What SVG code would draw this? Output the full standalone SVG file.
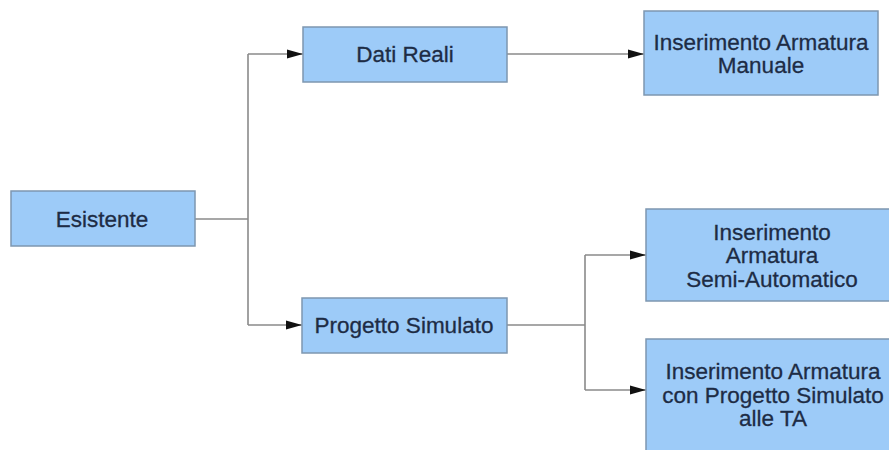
<svg xmlns="http://www.w3.org/2000/svg" width="889" height="450" viewBox="0 0 889 450">
<style>
.box{fill:#9dcbf8;stroke:#7e97b0;stroke-width:1.5}
.t{font-family:"Liberation Sans",Arial,sans-serif;font-size:22.5px;fill:#1d2c45;stroke:#1d2c45;stroke-width:0.3;text-anchor:middle}
.c{fill:none;stroke:#8a8a8a;stroke-width:1.6}
</style>
<defs>
<marker id="ah" markerUnits="userSpaceOnUse" markerWidth="16" markerHeight="10" refX="16" refY="5" orient="auto">
<path d="M0,0.5 L16,5 L0,9.5 Z" fill="#111"/>
</marker>
</defs>
<rect width="889" height="450" fill="#fff"/>
<g id="connectors">
<path class="c" d="M195,219 H248"/>
<path class="c" d="M248,54 V325"/>
<path class="c" d="M248,54 H303" marker-end="url(#ah)"/>
<path class="c" d="M248,325 H302" marker-end="url(#ah)"/>
<path class="c" d="M507,54 H644" marker-end="url(#ah)"/>
<path class="c" d="M507,325 H585"/>
<path class="c" d="M585,255 V390"/>
<path class="c" d="M585,255 H646" marker-end="url(#ah)"/>
<path class="c" d="M585,390 H646" marker-end="url(#ah)"/>
</g>
<g id="esistente">
<rect class="box" x="11" y="191" width="184" height="55"/>
<text class="t" x="102" y="227">Esistente</text>
</g>
<g id="dati-reali">
<rect class="box" x="303" y="27" width="204" height="55"/>
<text class="t" x="405" y="62">Dati Reali</text>
</g>
<g id="progetto-simulato">
<rect class="box" x="302" y="298" width="205" height="55"/>
<text class="t" x="404" y="333">Progetto Simulato</text>
</g>
<g id="manuale">
<rect class="box" x="644" y="11" width="234" height="84"/>
<text class="t" x="761" y="50">Inserimento Armatura</text>
<text class="t" x="761" y="73">Manuale</text>
</g>
<g id="semi-automatico">
<rect class="box" x="646" y="209" width="260" height="92"/>
<text class="t" x="772" y="240">Inserimento</text>
<text class="t" x="772" y="263">Armatura</text>
<text class="t" x="772" y="287">Semi-Automatico</text>
</g>
<g id="progetto-ta">
<rect class="box" x="646" y="339" width="260" height="130"/>
<text class="t" x="773" y="379">Inserimento Armatura</text>
<text class="t" x="773" y="402.5">con Progetto Simulato</text>
<text class="t" x="773" y="426">alle TA</text>
</g>
</svg>
